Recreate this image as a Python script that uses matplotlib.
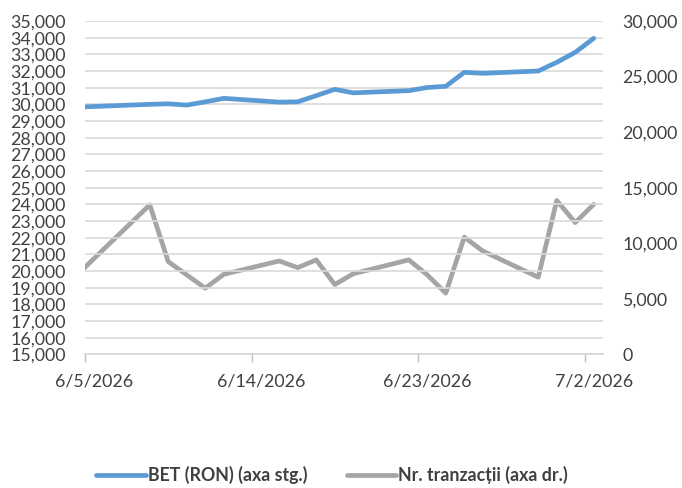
import datetime as dt
import matplotlib
matplotlib.use("Agg")
import matplotlib.pyplot as plt
import matplotlib.dates as mdates
from matplotlib.ticker import FuncFormatter, MultipleLocator

plt.rcParams['font.family'] = ['Lato', 'DejaVu Sans']

# trading days (first one sits just left of the visible range, as in the source)
dates = ["2026-06-04", "2026-06-05", "2026-06-08", "2026-06-09", "2026-06-10",
         "2026-06-11", "2026-06-12", "2026-06-15", "2026-06-16", "2026-06-17",
         "2026-06-18", "2026-06-19", "2026-06-22", "2026-06-23", "2026-06-24",
         "2026-06-25", "2026-06-26", "2026-06-29", "2026-06-30", "2026-07-01",
         "2026-07-02"]
bet = [29830, 29870, 30000, 30030, 29955,
       30150, 30360, 30130, 30150, 30520,
       30900, 30690, 30820, 31010, 31080,
       31920, 31860, 32000, 32520, 33120,
       33960]
tranzactii = [7020, 8640, 13450, 8340, 7150,
              5950, 7200, 8400, 7800, 8500,
              6280, 7250, 8500, 7150, 5500,
              10540, 9300, 6940, 13840, 11860,
              13500]
tick_days = ["2026-06-05", "2026-06-14", "2026-06-23", "2026-07-02"]

x = [dt.datetime.strptime(d, "%Y-%m-%d") for d in dates]
xt = [dt.datetime.strptime(d, "%Y-%m-%d") for d in tick_days]
xn = mdates.date2num(x)
xtn = mdates.date2num(xt)

blue = "#5B9BD5"
gray = "#A5A5A5"
grid = "#D9D9D9"
fs = 12.8

fig = plt.figure(figsize=(6.82, 4.88), dpi=100)
ax = fig.add_axes([85 / 682, 1 - 354.3 / 488, (603 - 85) / 682, (354.3 - 21) / 488])
ax2 = ax.twinx()

l1, = ax.plot(xn, bet, color=blue, lw=3.4, solid_joinstyle='round', solid_capstyle='round',
              label="BET (RON) (axa stg.)")
l2, = ax2.plot(xn, tranzactii, color=gray, lw=3.4, solid_joinstyle='round', solid_capstyle='round',
               label="Nr. tranzacții (axa dr.)")

ax.set_xlim(xtn[0] - 0.5, xtn[-1] + 0.5)
ax.set_ylim(15000, 35000)
ax2.set_ylim(0, 30000)

ax.yaxis.set_major_locator(MultipleLocator(1000))
ax2.yaxis.set_major_locator(MultipleLocator(5000))
fmt = FuncFormatter(lambda v, p: f"{int(v):,}")
ax.yaxis.set_major_formatter(fmt)
ax2.yaxis.set_major_formatter(fmt)

ax.set_xticks(xtn)
ax.set_xticklabels([f"{d.month}/{d.day}/{d.year}" for d in xt])
ax.set_xticks(xtn - 0.5, minor=True)
ax.tick_params(axis='x', which='major', length=0, pad=14, labelsize=fs, colors='#404040')
ax.tick_params(axis='x', which='minor', length=6, width=1, color='#BFBFBF')
ax.tick_params(axis='y', length=0, pad=14, labelsize=fs, colors='#404040')
ax2.tick_params(axis='y', length=0, pad=14, labelsize=fs, colors='#404040')

ax.grid(axis='y', color=grid, lw=1.2)
ax.set_axisbelow(True)
for a in (ax, ax2):
    for s in ('top', 'left', 'right'):
        a.spines[s].set_visible(False)
    a.spines['bottom'].set_color(grid)
    a.spines['bottom'].set_linewidth(1.2)
ax.set_zorder(ax2.get_zorder() + 1)
ax.patch.set_visible(False)
ax2.set_zorder(0)

leg = fig.legend(handles=[l1, l2], loc='center', bbox_to_anchor=(0.487, 0.026), ncol=2,
                 frameon=False, handlelength=2.8, handletextpad=0.1, columnspacing=2.2,
                 prop={'weight': 'bold', 'size': fs})
for t in leg.get_texts():
    t.set_color('#404040')

fig.savefig("out.png", dpi=100)
